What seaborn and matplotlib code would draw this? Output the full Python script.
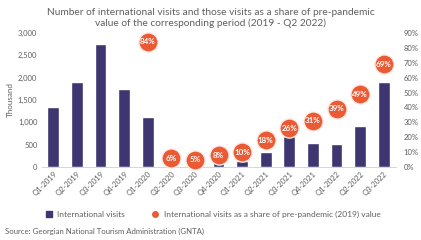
import matplotlib
matplotlib.use("Agg")
import matplotlib.pyplot as plt
from matplotlib.lines import Line2D
import seaborn as sns
import pandas as pd

quarters = ["Q1-2019", "Q2-2019", "Q3-2019", "Q4-2019", "Q1-2020", "Q2-2020",
            "Q3-2020", "Q4-2020", "Q1-2021", "Q2-2021", "Q3-2021", "Q4-2021",
            "Q1-2022", "Q2-2022", "Q3-2022"]
visits = [1335, 1907, 2763, 1750, 1120, 114, 138, 140, 134, 340, 700, 540, 520, 920, 1907]
share_pct = [None, None, None, None, 84, 6, 5, 8, 10, 18, 26, 31, 39, 49, 69]

bar_color = "#3d3670"
dot_color = "#ea5a35"
text_color = "#5f5f5f"

sns.set_theme(style="white")
plt.rcParams["font.family"] = ["Lato", "DejaVu Sans"]

df = pd.DataFrame({"quarter": quarters, "visits": visits, "share": share_pct})

fig = plt.figure(figsize=(4.21, 2.40), dpi=100)
ax = fig.add_axes([0.0986, 0.304, 0.8409, 0.5585])

sns.barplot(data=df, x="quarter", y="visits", color=bar_color, width=0.5,
            saturation=1, ax=ax)
ax.set_ylim(0, 3000)
ax.set_xlim(-0.5, len(quarters) - 0.5)
ax.set_yticks(range(0, 3001, 500))
ax.set_yticklabels([f"{v:,}" for v in range(0, 3001, 500)])
ax.set_xlabel("")
ax.set_ylabel("Thousand", fontsize=5.8, color=text_color, labelpad=3)
ax.tick_params(axis="y", labelsize=5.5, colors=text_color, length=0, pad=3)
ax.tick_params(axis="x", labelsize=5.5, colors=text_color, length=0, pad=2)
for lab in ax.get_xticklabels():
    lab.set_rotation(45)
    lab.set_ha("right")
    lab.set_rotation_mode("anchor")
for s in ["top", "right", "left"]:
    ax.spines[s].set_visible(False)
ax.spines["bottom"].set_color("#d0d0d0")
ax.spines["bottom"].set_linewidth(0.6)

ax2 = ax.twinx()
dd = df.dropna(subset=["share"])
sns.scatterplot(data=dd, x="quarter", y="share", color=dot_color, s=190,
                edgecolor="#fde9e3", linewidth=1.0, ax=ax2, clip_on=False, zorder=5,
                legend=False)
ax2.set_ylim(0, 90)
ax2.set_yticks(range(0, 91, 10))
ax2.set_yticklabels([f"{v}%" for v in range(0, 91, 10)])
ax2.set_ylabel("")
ax2.tick_params(axis="y", labelsize=5.5, colors=text_color, length=0, pad=6)
for s in ["top", "right", "left", "bottom"]:
    ax2.spines[s].set_visible(False)
for q, v in zip(dd["quarter"], dd["share"]):
    ax2.text(quarters.index(q), v, f"{int(v)}%", ha="center", va="center",
             color="white", fontsize=5.8, fontweight="bold", zorder=6, clip_on=False)

fig.text(0.5, 0.965, "Number of international visits and those visits as a share of pre-pandemic\n"
         "value of the corresponding period (2019 - Q2 2022)", ha="center", va="top",
         fontsize=7.3, color=text_color, linespacing=1.2)

handles = [Line2D([], [], marker="s", linestyle="", color=bar_color, markersize=4),
           Line2D([], [], marker="o", linestyle="", color=dot_color, markersize=4)]
fig.legend(handles, ["International visits",
                     "International visits as a share of pre-pandemic (2019) value"],
           loc="center", bbox_to_anchor=(0.5, 0.108), ncol=2, frameon=False,
           fontsize=6.0, handletextpad=0.0, columnspacing=2.6, labelcolor=text_color)

fig.text(0.012, 0.035, "Source: Georgian National Tourism Administration (GNTA)",
         fontsize=5.6, color=text_color, ha="left", va="center")

fig.savefig("out.png", dpi=100)
